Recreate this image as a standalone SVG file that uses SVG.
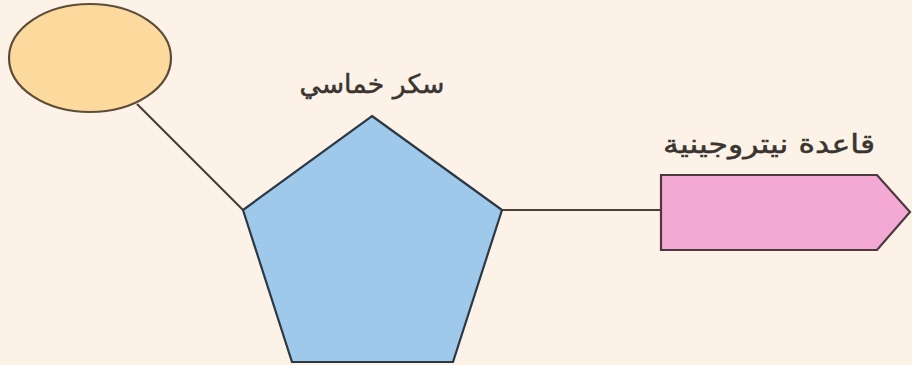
<svg xmlns="http://www.w3.org/2000/svg" width="912" height="365" viewBox="0 0 912 365">
<style>
.bg{fill:#fcf2e7}
.conn{stroke:#4a4038;stroke-width:2.2;fill:none}
.lbl{font-family:"DejaVu Sans",sans-serif;font-size:26px;fill:#3a3530;stroke:#3a3530;stroke-width:0.5;text-anchor:middle;direction:rtl}
</style>
<rect class="bg" x="0" y="0" width="912" height="365"/>
<g id="connectors">
<line class="conn" x1="137" y1="104" x2="243" y2="210"/>
<line class="conn" x1="502" y1="210" x2="661" y2="210"/>
</g>
<g id="phosphate">
<ellipse cx="90" cy="58" rx="81" ry="54" fill="#fcd99c" stroke="#5c4c38" stroke-width="2.2"/>
</g>
<g id="sugar">
<polygon points="372,116 502,210 453,362 292,362 243,210" fill="#9fc9eb" stroke="#2c3844" stroke-width="2.2"/>
<text class="lbl" x="372" y="93" textLength="145" lengthAdjust="spacingAndGlyphs">سكر خماسي</text>
</g>
<g id="base">
<polygon points="661,175 877,175 910,212 877,250 661,250" fill="#f4a9d5" stroke="#4a3a40" stroke-width="2.2"/>
<text class="lbl" x="769" y="153" textLength="212" lengthAdjust="spacingAndGlyphs">قاعدة نيتروجينية</text>
</g>
</svg>
